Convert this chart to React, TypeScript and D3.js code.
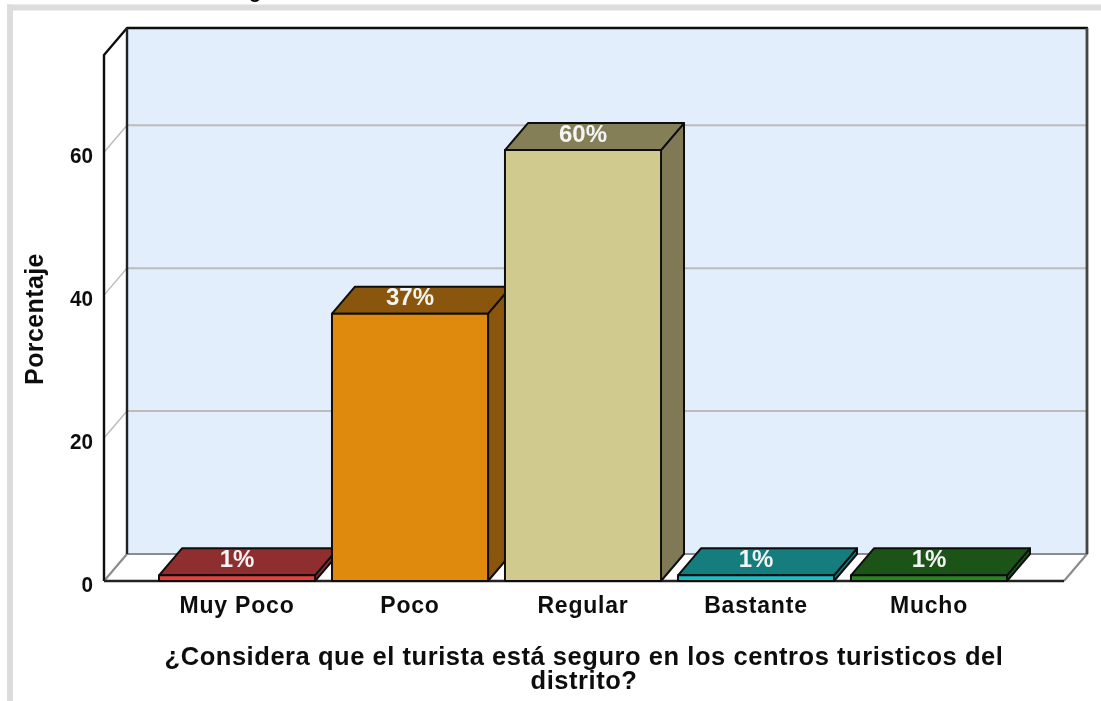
import React from "react";
import * as d3 from "d3";

const categories = ["Muy Poco", "Poco", "Regular", "Bastante", "Mucho"];
const values = [0.8, 37.4, 60.3, 0.8, 0.8];
const labels = ["1%", "37%", "60%", "1%", "1%"];
const frontColors = ["#e8413f", "#e08a0e", "#d0ca8e", "#17c0c4", "#2a8425"];
const topColors = ["#8f2d2e", "#8a5508", "#857f58", "#127d7e", "#1b5317"];
const sideColors = ["#8f2d2e", "#8a5508", "#7f7a55", "#127d7e", "#1b5317"];
const yTicks = [0, 20, 40, 60];
const yMax = 73.6;
const titleLines = ["¿Considera que el turista está seguro en los centros turisticos del", "distrito?"];

const W = 1101, H = 701;
const DX = 23, DY = 27;
const left = 104, right = 1064, floorY = 581, topY = 55;
const font = "'Liberation Sans', Arial, sans-serif";

export default function App() {
  const y = d3.scaleLinear().domain([0, yMax]).range([floorY, topY]);
  const x = d3.scaleBand<string>().domain(categories).range([159, 1007]).paddingInner(0.098);
  const bw = x.bandwidth();
  const pts = (p: number[][]) => p.map((c) => c.join(",")).join(" ");
  return (
    <svg width={W} height={H} viewBox={`0 0 ${W} ${H}`}
      style={{ position: "fixed", left: 0, top: 0, display: "block", background: "#fff" }}>
      <defs>
        <filter id="soft" x="-2%" y="-2%" width="104%" height="104%">
          <feGaussianBlur stdDeviation="0.6" />
        </filter>
      </defs>
      <g filter="url(#soft)">
        <rect x={7} y={4.5} width={W - 7} height={6} fill="#dcdcdc" />
        <rect x={7} y={4.5} width={6} height={H} fill="#dcdcdc" />
        <text x={255} y={-2.5} fontFamily={font} fontWeight="bold" fontSize={20} textAnchor="middle">g</text>

        {/* walls */}
        <rect x={left + DX} y={topY - DY} width={right - left} height={floorY - topY} fill="#e2eefb" />
        <polygon points={pts([[left, floorY], [left + DX, floorY - DY], [right + DX, floorY - DY], [right, floorY]])} fill="#fff" />

        {/* gridlines */}
        {yTicks.filter((t) => t > 0).map((t) => (
          <g key={t} stroke="#bcbcbc" strokeWidth={2} fill="none">
            <line x1={left + DX} x2={right + DX} y1={y(t) - DY} y2={y(t) - DY} />
            <line x1={left} x2={left + DX} y1={y(t)} y2={y(t) - DY} strokeWidth={1.5} />
          </g>
        ))}

        {/* frame */}
        <g fill="none" strokeLinejoin="round">
          <polyline points={pts([[left, floorY], [left + DX, floorY - DY], [right + DX, floorY - DY], [right, floorY]])} stroke="#8c8c8c" strokeWidth={2.2} />
          <polyline points={pts([[left, floorY], [left, topY], [left + DX, topY - DY], [right + DX, topY - DY], [right + DX, floorY - DY]])} stroke="#111" strokeWidth={2.4} />
          <line x1={left + DX} x2={left + DX} y1={topY - DY} y2={floorY - DY} stroke="#222" strokeWidth={2.4} />
          <line x1={right + DX} x2={right + DX} y1={topY - DY} y2={floorY - DY} stroke="#444" strokeWidth={2.4} />
          <line x1={left} x2={right} y1={floorY} y2={floorY} stroke="#222" strokeWidth={2.4} />
        </g>

        {/* bars */}
        {categories.map((c, i) => {
          const x0 = x(c)!, x1 = x0 + bw, yt = y(values[i]);
          return (
            <g key={c} stroke="#111" strokeWidth={2} strokeLinejoin="round">
              <polygon points={pts([[x1, floorY], [x1, yt], [x1 + DX, yt - DY], [x1 + DX, floorY - DY]])} fill={sideColors[i]} />
              <polygon points={pts([[x0, yt], [x0 + DX, yt - DY], [x1 + DX, yt - DY], [x1, yt]])} fill={topColors[i]} />
              <rect x={x0} y={yt} width={bw} height={floorY - yt} fill={frontColors[i]} />
            </g>
          );
        })}
        {categories.map((c, i) => (
          <text key={c} x={x(c)! + bw / 2} y={y(values[i]) - DY / 2 + 5} fill="#f4f4f4" fontFamily={font}
            fontWeight="bold" fontSize={24} textAnchor="middle">{labels[i]}</text>
        ))}

        {/* y axis */}
        {yTicks.map((t) => (
          <text key={t} textAnchor="end" fontFamily={font} fontWeight="bold" fontSize={22}
            transform={`translate(93 ${y(t) + 11}) scale(0.94 1)`} fill="#111">{t}</text>
        ))}
        <text transform="translate(43 319) rotate(-90)" textAnchor="middle" fontFamily={font} fontWeight="bold" fontSize={25} letterSpacing={0.4} fill="#111">Porcentaje</text>

        {/* x axis */}
        {categories.map((c) => (
          <text key={c} x={x(c)! + bw / 2} y={613} textAnchor="middle" fontFamily={font} fontWeight="bold" fontSize={23} letterSpacing={0.8} fill="#111">{c}</text>
        ))}
        {titleLines.map((l, i) => (
          <text key={l} x={584} y={665 + i * 24} textAnchor="middle" fontFamily={font} fontWeight="bold" fontSize={25.5} letterSpacing={0.55} fill="#111">{l}</text>
        ))}
      </g>
    </svg>
  );
}
